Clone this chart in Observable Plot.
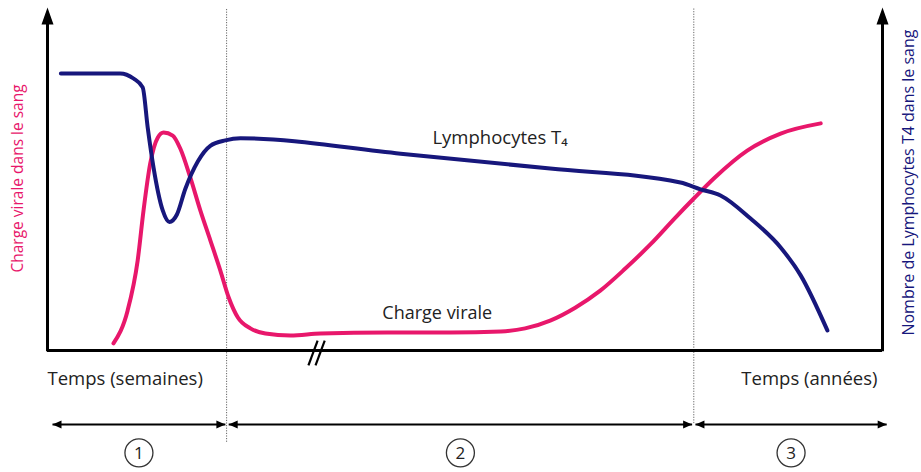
<!DOCTYPE html>
<html><head><meta charset="utf-8">
<script src="https://cdn.jsdelivr.net/npm/d3@7"></script>
<script src="https://cdn.jsdelivr.net/npm/@observablehq/plot@0.6"></script>
<style>body{margin:0;background:#fff}</style>
</head><body><div id="chart"></div>
<script>
// ---- data (arbitrary schematic units: time 0-100, level 0-100) ----
const t4Time  = [1.6, 6.4, 8.7, 10.3, 11.4, 12.0, 12.7, 13.8, 14.6, 15.5, 16.5, 18.0, 19.5, 21.3, 23.1, 42.3, 60.2, 75.8, 78.2, 80.6, 84.2, 87.8, 90.2, 93.4];
const t4Level = [81.5, 81.5, 81.5, 80.0, 77.4, 65.6, 53.8, 41.2, 37.8, 40.0, 47.5, 55.6, 60.2, 61.8, 62.4, 57.9, 53.5, 49.4, 47.4, 45.6, 38.8, 30.3, 22.1, 5.9];
const viralTime = [7.9, 9.6, 10.8, 11.5, 12.3, 13.2, 13.9, 15.0, 15.9, 17.1, 18.3, 19.5, 20.7, 21.7, 22.8, 24.3, 26.1, 29.1, 32.7, 40.7, 48.3, 54.3, 57.2, 60.2, 63.2, 66.2, 69.2, 72.2, 75.2, 77.4, 79.8, 83.8, 87.8, 92.6];
const viralLoad = [2.1, 11.8, 26.5, 41.2, 55.0, 62.6, 64.1, 63.2, 59.4, 50.9, 41.2, 32.4, 23.5, 15.6, 9.7, 6.5, 5.0, 4.4, 5.0, 5.3, 5.3, 5.6, 6.5, 8.8, 12.6, 17.6, 24.1, 31.2, 39.1, 44.7, 50.6, 58.8, 63.8, 66.8];
const phaseLabels = ["1", "2", "3"];
const phaseStart  = [0.6, 21.7, 77.6];
const phaseEnd    = [21.3, 77.2, 100.5];
const phaseBounds = [21.45, 77.4];
const leftAxisLabel  = "Charge virale dans le sang";
const rightAxisLabel = "Nombre de Lymphocytes T4 dans le sang";
const timeLabelWeeks = "Temps (semaines)";
const timeLabelYears = "Temps (années)";
const t4CurveLabel = "Lymphocytes T\u2084";
const viralCurveLabel = "Charge virale";

// ---- styling ----
const PINK = "#e8176b", NAVY = "#17177c";
const FONT = "'Open Sans', Lato, sans-serif";

const t4 = t4Time.map((t, i) => ({t, v: t4Level[i]}));
const viral = viralTime.map((t, i) => ({t, v: viralLoad[i]}));
const phases = phaseLabels.map((label, i) => ({label, a: phaseStart[i], b: phaseEnd[i], mid: (phaseStart[i] + phaseEnd[i]) / 2}));

// arrowhead symbols (tip at origin, pointing up)
const bigHead = {draw(ctx) { ctx.moveTo(0, 0); ctx.lineTo(6, 17); ctx.lineTo(-6, 17); ctx.closePath(); }};
const smallHead = {draw(ctx) { ctx.moveTo(0, 0); ctx.lineTo(4, 9); ctx.lineTo(-4, 9); ctx.closePath(); }};

const Y_AXIS_TOP = 100.9, ARROW_Y = -21.8, CIRCLE_Y = -30.1, TIME_LABEL_Y = -8.3;

const chart = Plot.plot({
  width: 921, height: 472,
  marginLeft: 47, marginRight: 39, marginTop: 10, marginBottom: 122,
  x: {domain: [0, 100], axis: null},
  y: {domain: [0, 100], axis: null},
  style: {background: "#fff", fontFamily: FONT, overflow: "visible"},
  marks: [
    // phase separators (dotted)
    Plot.ruleX([phaseBounds[0]], {y1: -27, y2: 100.6, stroke: "#666", strokeWidth: 1, strokeDasharray: "1.2,1.4"}),
    Plot.ruleX([phaseBounds[1]], {y1: -21.5, y2: 100.6, stroke: "#666", strokeWidth: 1, strokeDasharray: "1.2,1.4"}),
    // axes
    Plot.ruleY([0], {x1: 0, x2: 100, stroke: "#000", strokeWidth: 3.2}),
    Plot.ruleX([0, 100], {y1: -0.4, y2: 96, stroke: "#000", strokeWidth: 3}),
    Plot.dot([0, 100], {x: d => d, y: Y_AXIS_TOP, symbol: bigHead, fill: "#000", stroke: "none"}),
    // break mark //
    Plot.link([31.25, 32.1], {x1: d => d, y1: -4.4, x2: d => d + 1.1, y2: 2.9, stroke: "#000", strokeWidth: 2.2}),
    // curves
    Plot.line(viral, {x: "t", y: "v", stroke: PINK, strokeWidth: 4, curve: "monotone-x", strokeLinecap: "round"}),
    Plot.line(t4, {x: "t", y: "v", stroke: NAVY, strokeWidth: 4, curve: "monotone-x", strokeLinecap: "round"}),
    // curve labels
    Plot.text([t4CurveLabel], {x: 46.1, y: 62.6, text: d => d, textAnchor: "start", fontSize: 18.5, fill: "#222"}),
    Plot.text([viralCurveLabel], {x: 40.1, y: 10.9, text: d => d, textAnchor: "start", fontSize: 18, fill: "#222"}),
    // axis titles
    Plot.text([leftAxisLabel], {x: -3.5, y: 50.6, text: d => d, rotate: -90, fontSize: 15.5, fill: PINK}),
    Plot.text([rightAxisLabel], {x: 103.1, y: 49.4, text: d => d, rotate: -90, fontSize: 16, fill: NAVY}),
    Plot.text([timeLabelWeeks], {x: 0, y: TIME_LABEL_Y, text: d => d, textAnchor: "start", fontSize: 18.5, fill: "#222"}),
    Plot.text([timeLabelYears], {x: 99.4, y: TIME_LABEL_Y, text: d => d, textAnchor: "end", fontSize: 18.5, fill: "#222"}),
    // phase double arrows
    Plot.link(phases, {x1: "a", x2: "b", y1: ARROW_Y, y2: ARROW_Y, stroke: "#000", strokeWidth: 2}),
    Plot.dot(phases, {x: "a", y: ARROW_Y, symbol: smallHead, rotate: -90, fill: "#000", stroke: "none"}),
    Plot.dot(phases, {x: "b", y: ARROW_Y, symbol: smallHead, rotate: 90, fill: "#000", stroke: "none"}),
    // circled numbers
    Plot.dot(phases, {x: "mid", y: CIRCLE_Y, r: 14, fill: "#fff", stroke: "#333", strokeWidth: 1.3}),
    Plot.text(phases, {x: "mid", y: CIRCLE_Y, text: "label", fontSize: 17, fill: "#222", dy: 1})
  ]
});
document.getElementById("chart").appendChild(chart);
</script>
</body></html>
